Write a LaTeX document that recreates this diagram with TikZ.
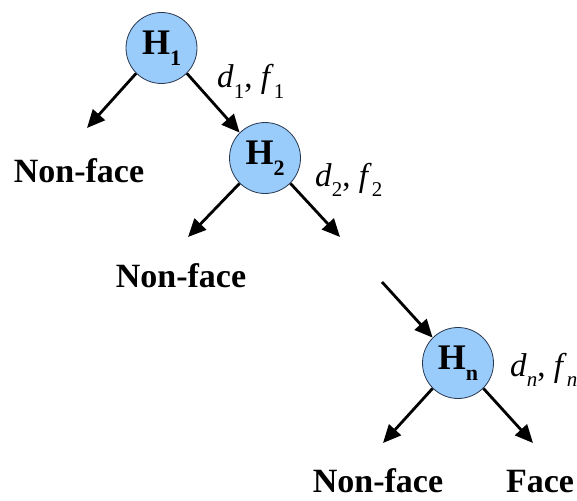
\documentclass[tikz,border=0pt]{standalone}
\usepackage{fontspec}
\setmainfont{Liberation Serif}
\usetikzlibrary{arrows.meta}
\definecolor{cblue}{RGB}{153,204,250}
\definecolor{cedge}{RGB}{40,55,80}
\newcommand{\lowsub}[1]{\raisebox{-0.3em}{\fontsize{22}{22}\selectfont #1}}
\newcommand{\msub}[1]{\raisebox{-0.32em}{\fontsize{21}{21}\selectfont #1}}
\tikzset{
  hnode/.style={circle, minimum size=71pt, inner sep=0pt, fill=cblue, draw=cedge,
    line width=0.8pt, font=\fontsize{36}{36}\selectfont\bfseries},
  arr/.style={line width=2.8pt, -{Triangle[length=18pt,width=16pt]}},
  lbl/.style={font=\fontsize{34}{34}\selectfont\bfseries, anchor=base, inner sep=0pt},
  mlbl/.style={font=\fontsize{33}{33}\selectfont, anchor=base west, inner sep=0pt}
}
\begin{document}
\begin{tikzpicture}[x=1pt,y=-1pt]
\fill[white] (0,0) rectangle (577,500);
\useasboundingbox (0,0) rectangle (577,500);

\node[hnode] (H1) at (161.5,48) {H\lowsub{1}};
\node[hnode] (H2) at (265,158) {H\lowsub{2}};
\node[hnode] (Hn) at (458,363) {H\lowsub{n}};

\coordinate (t1) at (87,128);
\coordinate (t2l) at (188,237);
\coordinate (t2r) at (340,237);
\coordinate (s3) at (382,282);
\coordinate (t3l) at (383,443);
\coordinate (t3r) at (533,443);

\draw[arr] (H1.-135) -- (t1);
\draw[arr] (H1.-45) -- (H2.135);
\draw[arr] (H2.-135) -- (t2l);
\draw[arr] (H2.-45) -- (t2r);
\draw[arr] (s3) -- (Hn.135);
\draw[arr] (Hn.-135) -- (t3l);
\draw[arr] (Hn.-45) -- (t3r);

\node[lbl] (nf1) at (79,182) {Non-face};
\node[lbl] (nf2) at (181,287) {Non-face};
\node[lbl] (nf3) at (378,492) {Non-face};
\node[lbl] (face) at (540,492) {Face};

\node[mlbl] (l1) at (217,88) {\textit{d}\msub{1}, \textit{f}\msub{1}};
\node[mlbl] (l2) at (315,186) {\textit{d}\msub{2}, \textit{f}\msub{2}};
\node[mlbl] (ln) at (510,376) {\textit{d}\msub{\textit{n}}, \textit{f}\msub{\textit{n}}};
\end{tikzpicture}
\end{document}
